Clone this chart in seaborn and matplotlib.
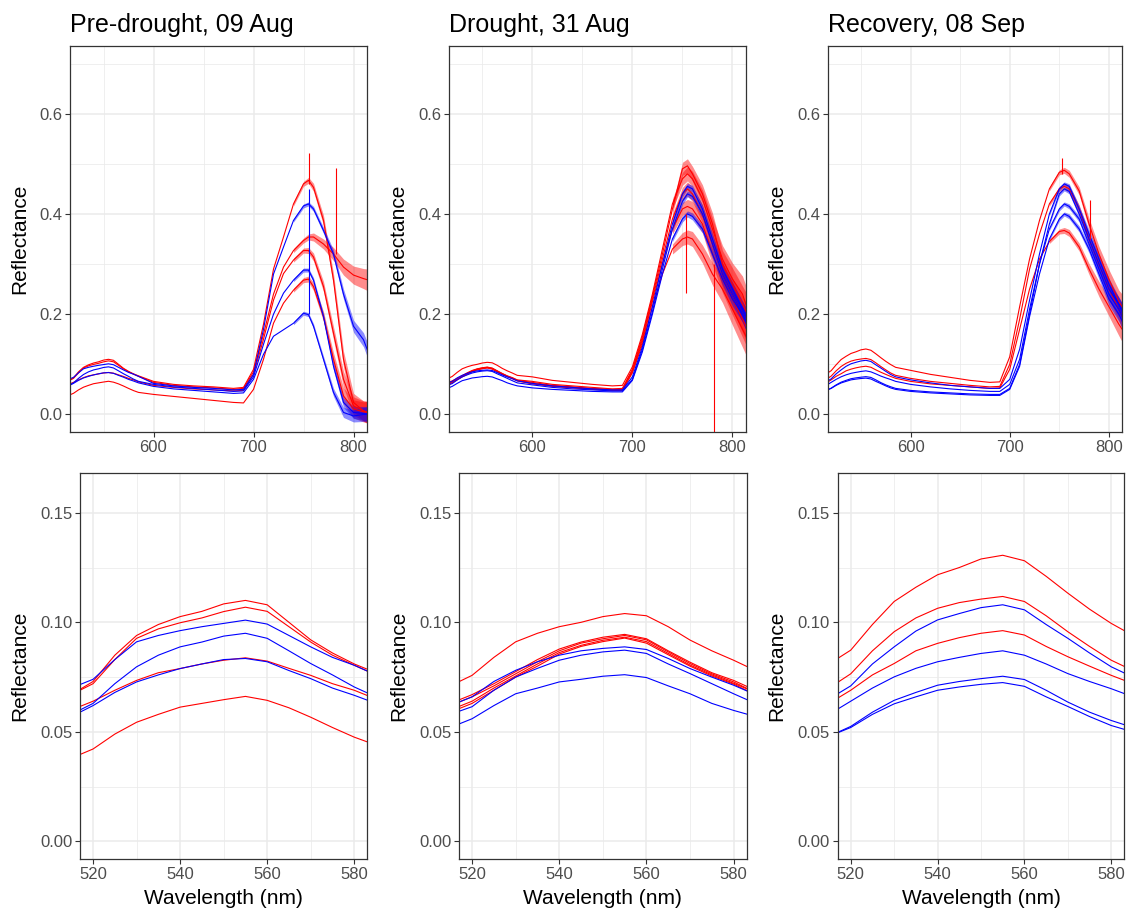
import pandas as pd
import matplotlib.pyplot as plt
import seaborn as sns

sns.set_theme(style="white")
plt.rcParams['font.family'] = ['Liberation Sans', 'DejaVu Sans']

wavelength = [515, 520, 525, 530, 535, 540, 545, 550, 555, 560, 565, 570, 575, 580, 585,
              600, 620, 640, 660, 680, 690, 700, 710, 720, 730, 740, 750, 755, 760,
              770, 780, 790, 800, 810, 815]

# Pre-drought, 09 Aug
pre_red_1 = [0.067, 0.073, 0.085, 0.094, 0.099, 0.1026, 0.105, 0.1084, 0.110, 0.108, 0.100, 0.092, 0.086, 0.081, 0.077,
             0.066, 0.060, 0.057, 0.055, 0.052, 0.054, 0.090, 0.180, 0.290, 0.354, 0.420, 0.460, 0.467, 0.453,
             0.387, 0.268, 0.110, 0.024, 0.007, 0.004]
pre_red_2 = [0.067, 0.072, 0.083, 0.0927, 0.097, 0.0998, 0.102, 0.1049, 0.1069, 0.105, 0.098, 0.091, 0.085, 0.0804, 0.076,
             0.064, 0.058, 0.055, 0.053, 0.050, 0.052, 0.085, 0.160, 0.240, 0.294, 0.327, 0.347, 0.354, 0.354,
             0.340, 0.320, 0.294, 0.278, 0.271, 0.268]
pre_red_3 = [0.060, 0.064, 0.069, 0.0735, 0.077, 0.0789, 0.081, 0.0827, 0.0838, 0.0823, 0.079, 0.0758, 0.072, 0.069, 0.065,
             0.058, 0.054, 0.051, 0.049, 0.047, 0.048, 0.080, 0.150, 0.228, 0.281, 0.308, 0.327, 0.327, 0.314,
             0.255, 0.162, 0.070, 0.017, 0.007, 0.004]
pre_red_4 = [0.038, 0.0422, 0.049, 0.0544, 0.058, 0.0613, 0.063, 0.0647, 0.0662, 0.0644, 0.061, 0.0567, 0.052, 0.0476, 0.044,
             0.040, 0.036, 0.032, 0.028, 0.024, 0.023, 0.050, 0.110, 0.182, 0.222, 0.248, 0.268, 0.270, 0.255,
             0.195, 0.110, 0.037, 0.011, 0.005, 0.004]
pre_blue_1 = [0.070, 0.074, 0.083, 0.0911, 0.094, 0.0962, 0.098, 0.0995, 0.101, 0.0992, 0.094, 0.0888, 0.084, 0.0804, 0.076,
              0.062, 0.057, 0.054, 0.052, 0.049, 0.050, 0.080, 0.170, 0.280, 0.334, 0.387, 0.416, 0.420, 0.410,
              0.367, 0.320, 0.240, 0.176, 0.149, 0.123]
pre_blue_2 = [0.058, 0.063, 0.072, 0.0797, 0.085, 0.0888, 0.091, 0.0937, 0.095, 0.0927, 0.087, 0.0812, 0.076, 0.0705, 0.066,
              0.060, 0.055, 0.052, 0.049, 0.046, 0.047, 0.075, 0.140, 0.200, 0.242, 0.268, 0.288, 0.288, 0.268,
              0.195, 0.096, 0.024, 0.004, 0.002, 0.001]
pre_blue_3 = [0.057, 0.062, 0.068, 0.0728, 0.076, 0.0789, 0.081, 0.083, 0.0835, 0.082, 0.078, 0.0743, 0.070, 0.0667, 0.063,
              0.056, 0.051, 0.048, 0.045, 0.042, 0.043, 0.070, 0.120, 0.156, 0.169, 0.182, 0.202, 0.199, 0.176,
              0.110, 0.044, 0.004, -0.003, 0.000, 0.000]

# Drought, 31 Aug
dro_red_1 = [0.071, 0.0758, 0.084, 0.0911, 0.095, 0.098, 0.100, 0.1026, 0.104, 0.103, 0.098, 0.0919, 0.087, 0.0827, 0.078,
             0.075, 0.068, 0.064, 0.060, 0.057, 0.058, 0.095, 0.160, 0.240, 0.330, 0.420, 0.470, 0.480, 0.470,
             0.430, 0.370, 0.310, 0.270, 0.240, 0.210]
dro_red_2 = [0.063, 0.067, 0.072, 0.0775, 0.083, 0.0878, 0.091, 0.0932, 0.0945, 0.0925, 0.087, 0.0818, 0.077, 0.0735, 0.069,
             0.066, 0.060, 0.057, 0.054, 0.051, 0.052, 0.090, 0.155, 0.235, 0.320, 0.410, 0.490, 0.496, 0.480,
             0.440, 0.380, 0.300, 0.260, 0.220, 0.200]
dro_red_3 = [0.062, 0.066, 0.071, 0.0765, 0.082, 0.0870, 0.0905, 0.0925, 0.0940, 0.0920, 0.0865, 0.0812, 0.0765, 0.0728, 0.068,
             0.064, 0.058, 0.055, 0.052, 0.050, 0.050, 0.088, 0.150, 0.230, 0.310, 0.390, 0.440, 0.450, 0.440,
             0.400, 0.340, 0.280, 0.240, 0.200, 0.180]
dro_red_4 = [0.060, 0.064, 0.070, 0.0755, 0.081, 0.0862, 0.0895, 0.0918, 0.0932, 0.0912, 0.0858, 0.0805, 0.0760, 0.0722, 0.068,
             0.062, 0.057, 0.054, 0.051, 0.049, 0.049, 0.085, 0.145, 0.225, 0.300, 0.370, 0.410, 0.415, 0.410,
             0.380, 0.320, 0.270, 0.230, 0.190, 0.170]
dro_red_5 = [0.059, 0.063, 0.069, 0.0750, 0.080, 0.0855, 0.0890, 0.0912, 0.0928, 0.0905, 0.0852, 0.0800, 0.0755, 0.0718, 0.067,
             0.061, 0.056, 0.053, 0.050, 0.048, 0.048, 0.083, 0.140, 0.215, 0.280, 0.330, 0.350, 0.354, 0.350,
             0.320, 0.280, 0.250, 0.210, 0.170, 0.150]
dro_blue_1 = [0.062, 0.0660, 0.073, 0.0781, 0.082, 0.085, 0.087, 0.0881, 0.0888, 0.0876, 0.0835, 0.0789, 0.075, 0.0713, 0.067,
              0.062, 0.057, 0.054, 0.051, 0.049, 0.049, 0.075, 0.135, 0.215, 0.300, 0.380, 0.440, 0.455, 0.450,
              0.410, 0.350, 0.290, 0.250, 0.210, 0.190]
dro_blue_2 = [0.058, 0.0615, 0.069, 0.075, 0.079, 0.0827, 0.085, 0.0865, 0.0873, 0.0858, 0.081, 0.0766, 0.072, 0.0674, 0.063,
              0.059, 0.054, 0.051, 0.049, 0.047, 0.047, 0.070, 0.130, 0.205, 0.290, 0.370, 0.425, 0.440, 0.435,
              0.400, 0.340, 0.280, 0.240, 0.200, 0.180]
dro_blue_3 = [0.052, 0.056, 0.062, 0.0674, 0.070, 0.0728, 0.074, 0.0754, 0.0761, 0.0748, 0.071, 0.0674, 0.063, 0.0598, 0.057,
              0.053, 0.050, 0.048, 0.046, 0.045, 0.045, 0.068, 0.125, 0.200, 0.280, 0.350, 0.390, 0.400, 0.395,
              0.370, 0.320, 0.270, 0.230, 0.200, 0.180]

# Recovery, 08 Sep
rec_red_1 = [0.081, 0.0873, 0.099, 0.1095, 0.116, 0.1217, 0.125, 0.1289, 0.1306, 0.1281, 0.121, 0.1133, 0.106, 0.0995, 0.094,
             0.088, 0.080, 0.074, 0.068, 0.064, 0.065, 0.115, 0.215, 0.310, 0.387, 0.450, 0.483, 0.487, 0.480,
             0.446, 0.380, 0.320, 0.270, 0.225, 0.210]
rec_red_2 = [0.070, 0.0765, 0.087, 0.0957, 0.102, 0.1064, 0.109, 0.1106, 0.1118, 0.1095, 0.103, 0.0957, 0.089, 0.0827, 0.078,
             0.072, 0.066, 0.062, 0.058, 0.055, 0.056, 0.100, 0.190, 0.290, 0.360, 0.420, 0.450, 0.455, 0.450,
             0.410, 0.350, 0.300, 0.250, 0.210, 0.190]
rec_red_3 = [0.063, 0.069, 0.076, 0.0812, 0.087, 0.0904, 0.093, 0.095, 0.0962, 0.0942, 0.089, 0.0843, 0.080, 0.0758, 0.072,
             0.066, 0.061, 0.058, 0.055, 0.052, 0.053, 0.090, 0.170, 0.250, 0.310, 0.345, 0.365, 0.367, 0.362,
             0.334, 0.290, 0.250, 0.215, 0.180, 0.165]
rec_blue_1 = [0.065, 0.071, 0.081, 0.0888, 0.096, 0.1011, 0.104, 0.1067, 0.108, 0.1057, 0.099, 0.0927, 0.086, 0.0797, 0.075,
              0.069, 0.063, 0.058, 0.055, 0.052, 0.052, 0.070, 0.130, 0.228, 0.320, 0.400, 0.450, 0.460, 0.455,
              0.410, 0.360, 0.310, 0.260, 0.220, 0.200]
rec_blue_2 = [0.058, 0.064, 0.070, 0.0751, 0.079, 0.082, 0.084, 0.0858, 0.087, 0.085, 0.081, 0.0766, 0.073, 0.0697, 0.066,
              0.060, 0.055, 0.051, 0.048, 0.046, 0.046, 0.060, 0.110, 0.210, 0.300, 0.370, 0.410, 0.420, 0.415,
              0.390, 0.340, 0.290, 0.240, 0.210, 0.190]
rec_blue_3 = [0.048, 0.0525, 0.059, 0.0644, 0.068, 0.0713, 0.073, 0.0743, 0.0754, 0.0739, 0.069, 0.0636, 0.059, 0.0552, 0.052,
              0.048, 0.045, 0.043, 0.041, 0.040, 0.040, 0.052, 0.100, 0.200, 0.300, 0.380, 0.440, 0.450, 0.445,
              0.400, 0.350, 0.300, 0.250, 0.220, 0.200]
rec_blue_4 = [0.048, 0.052, 0.058, 0.0628, 0.066, 0.069, 0.0705, 0.0717, 0.0725, 0.0708, 0.066, 0.0616, 0.057, 0.0529, 0.050,
              0.046, 0.043, 0.041, 0.039, 0.038, 0.038, 0.050, 0.096, 0.195, 0.280, 0.350, 0.390, 0.400, 0.395,
              0.370, 0.330, 0.280, 0.230, 0.200, 0.180]

# half-width of the sensor noise band in the NIR (740-815 nm)
nir_wavelength = [740, 750, 755, 760, 770, 780, 790, 800, 810, 815]
pre_red_noise = [0.004, 0.005, 0.006, 0.008, 0.010, 0.013, 0.016, 0.018, 0.020, 0.022]
pre_blue_noise = [0.003, 0.004, 0.004, 0.005, 0.006, 0.008, 0.010, 0.012, 0.014, 0.015]
dro_red_noise = [0.010, 0.013, 0.014, 0.015, 0.018, 0.022, 0.027, 0.032, 0.036, 0.038]
dro_blue_noise = [0.005, 0.006, 0.006, 0.007, 0.008, 0.010, 0.012, 0.014, 0.016, 0.018]
rec_red_noise = [0.004, 0.005, 0.006, 0.007, 0.008, 0.011, 0.015, 0.019, 0.023, 0.026]
rec_blue_noise = [0.003, 0.004, 0.004, 0.005, 0.006, 0.008, 0.010, 0.012, 0.014, 0.016]

# single-band spikes: (panel, treatment, wavelength, low, high)
spikes = [
    (0, "drought", 755, 0.460, 0.522),
    (0, "drought", 782, 0.320, 0.491),
    (0, "control", 755, 0.200, 0.450),
    (1, "drought", 754, 0.242, 0.400),
    (1, "drought", 782, -0.040, 0.300),
    (2, "drought", 753, 0.480, 0.512),
    (2, "drought", 781, 0.350, 0.428),
]

dates = ["Pre-drought, 09 Aug", "Drought, 31 Aug", "Recovery, 08 Sep"]
spectra = {
    dates[0]: {"drought": [pre_red_1, pre_red_2, pre_red_3, pre_red_4],
               "control": [pre_blue_1, pre_blue_2, pre_blue_3]},
    dates[1]: {"drought": [dro_red_1, dro_red_2, dro_red_3, dro_red_4, dro_red_5],
               "control": [dro_blue_1, dro_blue_2, dro_blue_3]},
    dates[2]: {"drought": [rec_red_1, rec_red_2, rec_red_3],
               "control": [rec_blue_1, rec_blue_2, rec_blue_3, rec_blue_4]},
}
noise = {
    dates[0]: {"drought": pre_red_noise, "control": pre_blue_noise},
    dates[1]: {"drought": dro_red_noise, "control": dro_blue_noise},
    dates[2]: {"drought": rec_red_noise, "control": rec_blue_noise},
}

rows = []
for date, groups in spectra.items():
    for treatment, curves in groups.items():
        for i, vals in enumerate(curves):
            for w, r in zip(wavelength, vals):
                rows.append((date, treatment, f"{treatment}{i}", w, r))
df = pd.DataFrame(rows, columns=["date", "treatment", "plant", "wavelength", "reflectance"])

palette = {"drought": "#FF0000", "control": "#0000FF"}

W, H = 1133, 917
top_boxes = [(70, 367), (448.7, 746), (827.7, 1122.3)]
bot_boxes = [(80, 367.3), (459, 746.7), (837.7, 1124.3)]

fig = plt.figure(figsize=(W / 100, H / 100), dpi=100)


def style_axis(ax, xmaj, xmin, ymaj, ymin, ylabels):
    ax.set_xticks(xmaj)
    ax.set_xticks(xmin, minor=True)
    ax.set_yticks(ymaj)
    ax.set_yticks(ymin, minor=True)
    ax.set_yticklabels(ylabels)
    ax.grid(which="major", color="#EBEBEB", lw=1.1)
    ax.grid(which="minor", color="#EBEBEB", lw=0.55)
    ax.set_axisbelow(True)
    for s in ax.spines.values():
        s.set_color("#333333")
        s.set_linewidth(0.9)
    ax.tick_params(which="major", length=3.5, width=0.8, color="#333333",
                   labelcolor="#4D4D4D", labelsize=12, pad=2, bottom=True, left=True)
    ax.tick_params(which="minor", length=0, bottom=False, left=False)


for k, date in enumerate(dates):
    sub = df[df["date"] == date]

    x0, x1 = top_boxes[k]
    ax = fig.add_axes([x0 / W, (H - 432) / H, (x1 - x0) / W, 386 / H])
    # noise bands around the NIR plateau
    for treatment, curves in spectra[date].items():
        half = noise[date][treatment]
        for vals in curves:
            nir = vals[len(wavelength) - len(nir_wavelength):]
            ax.fill_between(nir_wavelength, [v - h for v, h in zip(nir, half)],
                            [v + h for v, h in zip(nir, half)],
                            color=palette[treatment], alpha=0.45, lw=0)
    sns.lineplot(data=sub, x="wavelength", y="reflectance", hue="treatment", units="plant",
                 estimator=None, palette=palette, lw=0.8, legend=False, ax=ax)
    for p, treatment, w, lo, hi in spikes:
        if p == k:
            ax.vlines(w, lo, hi, color=palette[treatment], lw=0.8)
    ax.set_xlim(516.5, 813.5)
    ax.set_ylim(-0.035, 0.735)
    style_axis(ax, [600, 700, 800], [550, 650, 750], [0, 0.2, 0.4, 0.6], [0.1, 0.3, 0.5, 0.7],
               ["0.0", "0.2", "0.4", "0.6"])
    ax.set_xlabel("")
    ax.set_ylabel("Reflectance", fontsize=15, color="black")
    ax.yaxis.set_label_coords(-41 / (x1 - x0), 0.5)
    ax.set_title(date, loc="left", fontsize=18, color="black", pad=10)

    x0, x1 = bot_boxes[k]
    ax = fig.add_axes([x0 / W, (H - 859) / H, (x1 - x0) / W, 385.7 / H])
    sns.lineplot(data=sub, x="wavelength", y="reflectance", hue="treatment", units="plant",
                 estimator=None, palette=palette, lw=0.8, legend=False, ax=ax)
    ax.set_xlim(517, 583)
    ax.set_ylim(-0.008, 0.168)
    style_axis(ax, [520, 540, 560, 580], [530, 550, 570], [0, 0.05, 0.10, 0.15],
               [0.025, 0.075, 0.125], ["0.00", "0.05", "0.10", "0.15"])
    ax.set_xlabel("Wavelength (nm)", fontsize=15, color="black")
    ax.xaxis.set_label_coords(0.5, -0.078)
    ax.set_ylabel("Reflectance", fontsize=15, color="black")
    ax.yaxis.set_label_coords(-51 / (x1 - x0), 0.5)

fig.savefig("out.png", dpi=100)
